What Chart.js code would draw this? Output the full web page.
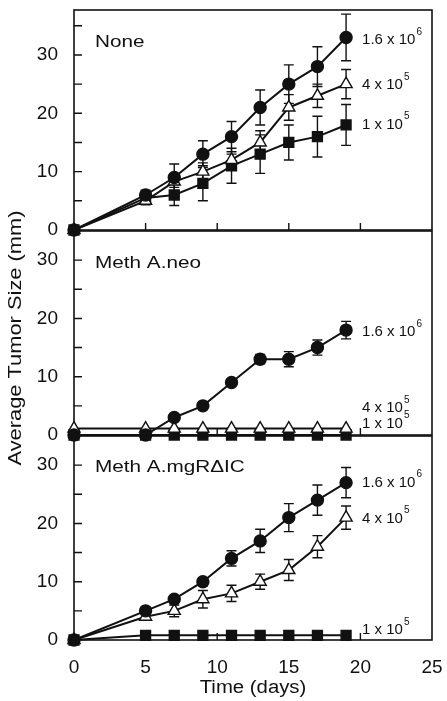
<!DOCTYPE html>
<html>
<head>
<meta charset="utf-8">
<title>Average Tumor Size</title>
<script src="https://cdn.jsdelivr.net/npm/chart.js@4/dist/chart.umd.min.js"></script>
<style>
  html, body { margin: 0; padding: 0; background: #fff; }
  #wrap { position: relative; width: 447px; height: 701px; overflow: hidden; background: #fff; }
  #wrap canvas { position: absolute; left: 0; top: 0; }
</style>
</head>
<body>
<div id="wrap">
  <canvas id="panelNone" width="447" height="701"></canvas>
  <canvas id="panelNeo" width="447" height="701"></canvas>
  <canvas id="panelIC" width="447" height="701"></canvas>
</div>
<script>
// Measurement days (x axis)
const days = [0, 5, 7, 9, 11, 13, 15, 17, 19];

// Cell-dose labels, drawn as "mantissa x 10^exp"
const doseText = ['1.6 x 10', '4 x 10', '1 x 10'];
const doseExp = ['6', '5', '5'];

// Panel names
const panelNames = ['None', 'Meth A.neo', 'Meth A.mgR\u0394IC'];

// Axis titles
const xTitle = 'Time (days)';
const yTitle = 'Average Tumor Size (mm)';

// None: mean tumor size (mm) and error per dose
const noneHigh    = [0, 6, 9, 13, 16, 21, 25, 28, 33];
const noneHighErr = [0, 0.8, 2.3, 2.3, 2.6, 3.0, 3.3, 3.4, 4.0];
const noneMid     = [0, 5, 8.3, 10, 12, 15, 21, 23, 25];
const noneMidErr  = [0, 0.7, 1.0, 1.5, 1.0, 2.0, 2.2, 2.0, 2.5];
const noneLow     = [0, 5.5, 6, 8, 11, 13, 15, 16, 18];
const noneLowErr  = [0, 0.5, 1.8, 3.0, 3.0, 3.3, 3.0, 3.5, 3.5];

// Meth A.neo
const neoHigh    = [0, 0, 3, 5, 9, 13, 13, 15, 18];
const neoHighErr = [0, 0, 0.3, 0.3, 0.5, 0.8, 1.3, 1.3, 1.5];
const neoMid     = [1.1, 1.1, 1.1, 1.1, 1.1, 1.1, 1.1, 1.1, 1.1];
const neoLow     = [0, 0, 0, 0, 0, 0, 0, 0, 0];

// Meth A.mgRΔIC
const icHigh    = [0, 5, 7, 10, 14, 17, 21, 24, 27];
const icHighErr = [0, 0.5, 0.5, 0.7, 1.3, 2.0, 2.4, 2.6, 2.6];
const icMid     = [0, 4, 5, 7, 8, 10, 12, 16, 21];
const icMidErr  = [0, 0.6, 1.0, 1.5, 1.4, 1.3, 1.8, 1.9, 2.0];
const icLow     = [0, 0.8, 0.8, 0.8, 0.8, 0.8, 0.8, 0.8, 0.8];

const ink = '#111';
const fontFamily = '"Liberation Sans", Arial, Helvetica, sans-serif';

// marker per dose: filled circle, open triangle, filled square
const markerStyle = ['circle', 'triangle', 'rect'];
const markerRadius = [6, 7, 7];
const markerFill = [ink, '#fff', ink];

// draw text stretched horizontally by sx
function stretchedText(ctx, text, x, y, size, sx, align) {
  ctx.save();
  ctx.font = size + 'px ' + fontFamily;
  ctx.textAlign = align || 'left';
  ctx.textBaseline = 'alphabetic';
  ctx.translate(x, y);
  ctx.scale(sx, 1);
  ctx.fillText(text, 0, 0);
  ctx.restore();
}

// box around the plot area plus inward tick marks
const frame = {
  id: 'frame',
  beforeDatasetsDraw(chart) {
    const { ctx, chartArea: a, scales: { x, y } } = chart;
    ctx.save();
    ctx.strokeStyle = ink;
    ctx.lineWidth = 1.6;
    ctx.strokeRect(a.left, a.top, a.right - a.left, a.bottom - a.top);
    ctx.lineWidth = 1.4;
    ctx.beginPath();
    y.ticks.forEach(t => {
      if (t.value <= 0 || t.value >= y.max) return;
      const py = y.getPixelForValue(t.value);
      ctx.moveTo(a.left, py);
      ctx.lineTo(a.left + 8, py);
    });
    x.ticks.forEach(t => {
      if (t.value <= 0 || t.value >= x.max) return;
      const px = x.getPixelForValue(t.value);
      ctx.moveTo(px, a.bottom);
      ctx.lineTo(px, a.bottom - 7);
    });
    ctx.stroke();
    ctx.restore();
  }
};

// vertical error bars with caps
const errorBars = {
  id: 'errorBars',
  beforeDatasetsDraw(chart) {
    const { ctx, scales: { x, y } } = chart;
    ctx.save();
    ctx.strokeStyle = ink;
    ctx.lineWidth = 1.4;
    chart.data.datasets.forEach(ds => {
      if (!ds.errors) return;
      ds.data.forEach((p, i) => {
        const e = ds.errors[i];
        if (!e) return;
        const px = x.getPixelForValue(p.x);
        const top = y.getPixelForValue(p.y + e);
        const bot = y.getPixelForValue(p.y - e);
        ctx.beginPath();
        ctx.moveTo(px, top); ctx.lineTo(px, bot);
        ctx.moveTo(px - 5, top); ctx.lineTo(px + 5, top);
        ctx.moveTo(px - 5, bot); ctx.lineTo(px + 5, bot);
        ctx.stroke();
      });
    });
    ctx.restore();
  }
};

// panel name, dose labels next to the last points, and axis titles
const annotate = {
  id: 'annotate',
  afterDraw(chart, args, opts) {
    const { ctx, chartArea: a } = chart;
    ctx.save();
    ctx.fillStyle = ink;
    stretchedText(ctx, opts.name, a.left + 21, a.top + opts.nameDy, 17, 1.22);
    opts.labelDy.forEach((dy, i) => {
      const meta = chart.getDatasetMeta(i);
      const last = meta.data[meta.data.length - 1];
      const lx = last.x + 16;
      const ly = last.y + dy;
      ctx.font = '15px ' + fontFamily;
      ctx.textAlign = 'left';
      ctx.textBaseline = 'alphabetic';
      ctx.fillText(doseText[i], lx, ly);
      const w = ctx.measureText(doseText[i]).width;
      ctx.font = '10px ' + fontFamily;
      ctx.fillText(doseExp[i], lx + w + 1, ly - 9.5);
    });
    if (opts.titles) {
      stretchedText(ctx, xTitle, (a.left + a.right) / 2, 693, 18, 1.13, 'center');
      ctx.save();
      ctx.translate(21, 338);
      ctx.rotate(-Math.PI / 2);
      stretchedText(ctx, yTitle, 0, 0, 19, 1.15, 'center');
      ctx.restore();
    }
    ctx.restore();
  }
};

function buildPanel(canvasId, cfg) {
  const datasets = cfg.series.map((s, i) => ({
    data: days.map((d, j) => ({ x: d, y: s.values[j] })),
    errors: s.errors,
    borderColor: ink,
    borderWidth: 2,
    tension: 0,
    fill: false,
    pointStyle: markerStyle[i],
    pointRadius: markerRadius[i],
    pointBackgroundColor: markerFill[i],
    pointBorderColor: ink,
    pointBorderWidth: 1.4,
    clip: false
  }));
  const tickFont = { family: fontFamily, size: 19 };
  return new Chart(document.getElementById(canvasId), {
    type: 'line',
    data: { datasets },
    options: {
      responsive: false,
      animation: false,
      events: [],
      layout: { padding: { left: 0, right: 15, top: cfg.padTop, bottom: cfg.padBottom } },
      plugins: {
        legend: { display: false },
        tooltip: { enabled: false },
        annotate: { name: cfg.name, nameDy: cfg.nameDy, labelDy: cfg.labelDy, titles: cfg.titles }
      },
      scales: {
        x: {
          type: 'linear', min: 0, max: 25,
          display: cfg.showX,
          grid: { display: false },
          border: { display: false },
          ticks: { stepSize: 5, color: ink, font: tickFont, padding: 8, maxRotation: 0 },
          afterFit(s) {
            s.height = cfg.showX ? 61 : 0;
            s.paddingLeft = 0;
            s.paddingRight = 0;
          }
        },
        y: {
          type: 'linear', min: 0, max: cfg.yMax,
          grid: { display: false },
          border: { display: false },
          ticks: {
            stepSize: 5, includeBounds: false, autoSkip: false,
            color: ink, font: tickFont, padding: 8,
            callback: v => (v % 10 === 0 ? String(v) : '')
          },
          afterFit(s) { s.width = 74; s.paddingTop = 0; s.paddingBottom = 0; }
        }
      }
    },
    plugins: [frame, errorBars, annotate]
  });
}

buildPanel('panelNone', {
  name: panelNames[0], nameDy: 37,
  padTop: 10, padBottom: 471, yMax: 37.7, showX: false, titles: false,
  labelDy: [7, 5, 4],
  series: [
    { values: noneHigh, errors: noneHighErr },
    { values: noneMid, errors: noneMidErr },
    { values: noneLow, errors: noneLowErr }
  ]
});

buildPanel('panelNeo', {
  name: panelNames[1], nameDy: 37,
  padTop: 231, padBottom: 266, yMax: 35, showX: false, titles: false,
  labelDy: [6, -16.5, -7.5],
  series: [
    { values: neoHigh, errors: neoHighErr },
    { values: neoMid, errors: null },
    { values: neoLow, errors: null }
  ]
});

buildPanel('panelIC', {
  name: panelNames[2], nameDy: 36,
  padTop: 436, padBottom: 0, yMax: 35, showX: true, titles: true,
  labelDy: [4, 5, -1],
  series: [
    { values: icHigh, errors: icHighErr },
    { values: icMid, errors: icMidErr },
    { values: icLow, errors: null }
  ]
});
</script>
</body>
</html>
